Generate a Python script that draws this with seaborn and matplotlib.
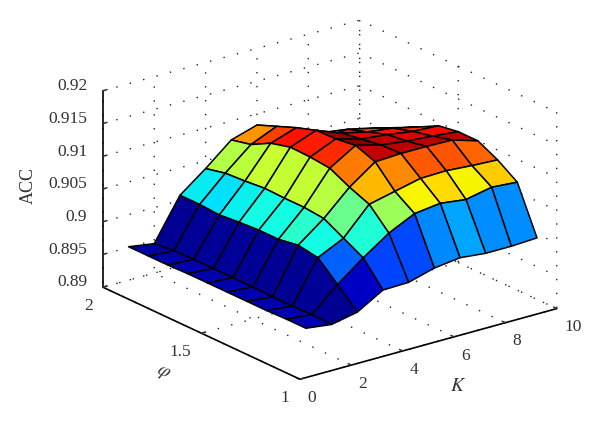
import numpy as np
import matplotlib
matplotlib.use("Agg")
import matplotlib.pyplot as plt
import seaborn as sns
from mpl_toolkits.mplot3d import Axes3D  # noqa

# phi runs from 2.0 down to 1.1 in each K column
phi_values = [2.0, 1.9, 1.8, 1.7, 1.6, 1.5, 1.4, 1.3, 1.2, 1.1]
k_values = [1, 2, 3, 4, 5, 6, 7, 8, 9, 10]
acc_k1 = [.8951, .8951, .8951, .8952, .8952, .8952, .8952, .8952, .8953, .8953]
acc_k2 = [.8945, .8948, .8949, .8949, .8949, .8949, .8948, .8948, .8949, .8948]
acc_k3 = [.9008, .9008, .9006, .9009, .9011, .9011, .9016, .9011, .8984, .8956]
acc_k4 = [.9038, .9045, .9047, .9050, .9049, .9049, .9046, .9030, .9014, .8979]
acc_k5 = [.9071, .9078, .9094, .9102, .9101, .9098, .9083, .9071, .9041, .8980]
acc_k6 = [.9083, .9095, .9107, .9117, .9118, .9122, .9111, .9080, .9060, .8991]
acc_k7 = [.9060, .9070, .9080, .9102, .9107, .9112, .9113, .9089, .9065, .8996]
acc_k8 = [.9050, .9065, .9083, .9093, .9103, .9107, .9113, .9090, .9060, .8992]
acc_k9 = [.9040, .9055, .9074, .9088, .9097, .9104, .9112, .9087, .9068, .8992]
acc_k10 = [.9030, .9045, .9064, .9079, .9095, .9100, .9100, .9085, .9065, .8994]
k_ticks = [0, 2, 4, 6, 8, 10]
phi_ticks = [1, 1.5, 2]
z_ticks = [0.89, 0.895, 0.90, 0.905, 0.91, 0.915, 0.92]
z_labels = ["0.89", "0.895", "0.9", "0.905", "0.91", "0.915", "0.92"]

sns.set_theme(style="white")
plt.rcParams["font.family"] = ["Liberation Serif", "DejaVu Serif"]
plt.rcParams["mathtext.fontset"] = "stix"

ink = "#333333"
fig = plt.figure(figsize=(6, 4.29), dpi=100, facecolor="white")
ax = fig.add_subplot(111, projection="3d", proj_type="ortho")
ax.set_position([0.04, 0.021, 1, 1])
ax.view_init(elev=21, azim=-127.5)
ax.set_box_aspect((1, 1, 0.65), zoom=1.14)

columns = [acc_k1, acc_k2, acc_k3, acc_k4, acc_k5, acc_k6, acc_k7, acc_k8, acc_k9, acc_k10]
Z = np.array(columns).T[::-1]
P = np.array(phi_values)[::-1]
X, Y = np.meshgrid(k_values, P)
norm = plt.Normalize(Z.min(), Z.max())
colors = matplotlib.colormaps["jet"](norm(Z))
ax.plot_surface(X, Y, Z, rstride=1, cstride=1, facecolors=colors, shade=False,
                edgecolor="black", linewidth=1.1, antialiased=True)

ax.set_xlim(0, 10, view_margin=0)
ax.set_ylim(1, 2, view_margin=0)
ax.set_zlim(0.89, 0.92, view_margin=0)
ax.set_xticks(k_ticks)
ax.set_yticks(phi_ticks)
ax.set_yticklabels(["1", "1.5", "2"])
ax.set_zticks(z_ticks)
ax.set_zticklabels(z_labels)

for axis in (ax.xaxis, ax.yaxis, ax.zaxis):
    axis.set_pane_color((1, 1, 1, 1))
    axis.pane.set_edgecolor("white")
    axis.line.set_color("black")
    axis.line.set_linewidth(1.2)
    axis._axinfo["grid"].update(color="#222222", linewidth=1.0, linestyle=(0, (1, 9)))
    axis._axinfo["tick"].update(inward_factor=0.0, outward_factor=0.2)
    axis._axinfo["tick"]["linewidth"] = {True: 1.1, False: 0.5}
ax.zaxis.set_ticks_position("upper")
ax.zaxis.set_label_position("upper")
ax.tick_params(axis="both", labelsize=12.5, colors=ink)
ax.tick_params(axis="x", pad=-2)
ax.tick_params(axis="y", pad=-1.5)
ax.tick_params(axis="z", pad=-2.5)
for t in ax.get_xticklabels():
    t.set_ha("left")
for t in ax.get_yticklabels():
    t.set_ha("right")
for t in ax.get_zticklabels():
    t.set_ha("right")
    t.set_va("baseline")

ax.set_xlabel("$K$", fontsize=14, color=ink, labelpad=3)
ax.set_ylabel(r"$\varphi$", fontsize=14, color=ink, labelpad=3)
ax.zaxis.set_rotate_label(False)
ax.set_zlabel("ACC", fontsize=13, color=ink, rotation=90, labelpad=5.3)
fig.savefig("out.png", dpi=100, facecolor="white")
